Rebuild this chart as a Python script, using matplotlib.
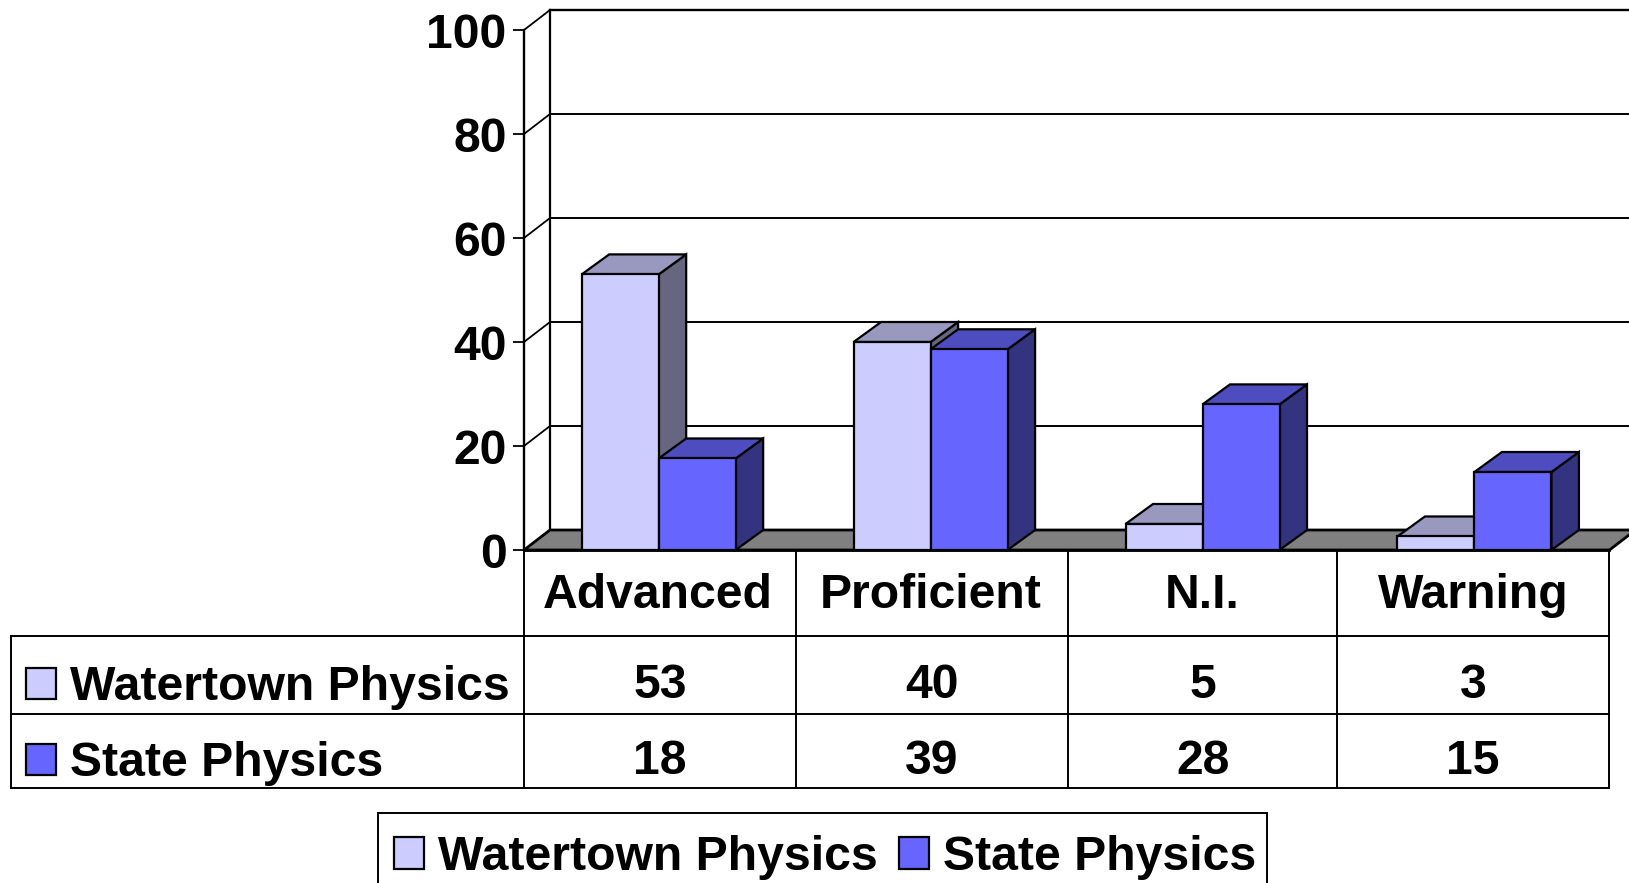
import matplotlib
matplotlib.use('Agg')
from matplotlib import pyplot as plt
from matplotlib.patches import Polygon, Rectangle

categories = ['Advanced', 'Proficient', 'N.I.', 'Warning']
series_names = ['Watertown Physics', 'State Physics']
# bar heights, the table shows them rounded
watertown = [53, 40, 5, 2.6]
state = [17.6, 38.6, 28, 15]
y_ticks = [0, 20, 40, 60, 80, 100]

W, H = 1629, 883
FONT = 'Liberation Sans'
SIZE = 34.7

# front, top, side colours for each series
colors_w = ('#CCCCFF', '#9999BF', '#666680')
colors_s = ('#6666FF', '#4D4DBF', '#333380')

# the chart front plane in pixels
left, right, y0, y100 = 524, 1609.5, 550, 30

fig = plt.figure(figsize=(W / 100, H / 100), dpi=100, facecolor='white')
ax = fig.add_axes([left / W, 1 - y0 / H, (right - left) / W, (y0 - y100) / H])
ax.set_xlim(0, len(categories))
ax.set_ylim(0, 100)
ax.patch.set_visible(False)
for s in ['top', 'right', 'bottom']:
    ax.spines[s].set_visible(False)
ax.spines['left'].set_linewidth(1.7)

ax.set_xticks([])
ax.set_yticks(y_ticks)
ax.set_yticklabels([str(t) for t in y_ticks], fontfamily=FONT, fontweight='bold', fontsize=SIZE)
ax.tick_params(axis='y', length=8, width=1.3, pad=4.5)

# depth of the fake 3d, in data units
px_per_cat = (right - left) / len(categories)
dx = 26 / px_per_cat
bar_dx = 27.5 / px_per_cat
dy = 20 / ((y0 - y100) / 100)
n = len(categories)

# floor
ax.add_patch(Polygon([(0, 0), (n, 0), (n + dx, dy), (dx, dy)], closed=True, facecolor='#808080',
                     edgecolor='black', linewidth=2.0, clip_on=False, zorder=2))

# back wall
ax.plot([dx, dx], [dy, 100 + dy], color='black', lw=1.6, clip_on=False, zorder=1)
for t in y_ticks:
    if t > 0:
        lw = 1.7 if t == 100 else 1.4
        ax.plot([dx, n + dx], [t + dy, t + dy], color='black', lw=lw, clip_on=False, zorder=1)
        ax.plot([0, dx], [t, t + dy], color='black', lw=1.3, clip_on=False, zorder=1)

bar_w = 77 / px_per_cat
z = 3
for i in range(n):
    center = 0.4963 + i * 1.002
    for j, (val, cols) in enumerate([(watertown[i], colors_w), (state[i], colors_s)]):
        x0 = center - bar_w + j * bar_w
        x1 = x0 + bar_w
        side = Polygon([(x1, 0), (x1 + bar_dx, dy), (x1 + bar_dx, val + dy), (x1, val)], closed=True,
                       facecolor=cols[2], edgecolor='black', linewidth=1.6, clip_on=False, zorder=z)
        top = Polygon([(x0, val), (x1, val), (x1 + bar_dx, val + dy), (x0 + bar_dx, val + dy)], closed=True,
                      facecolor=cols[1], edgecolor='black', linewidth=1.6, clip_on=False, zorder=z)
        ax.add_patch(side)
        ax.add_patch(top)
        ax.bar(x0, val, width=bar_w, align='edge', color=cols[0], edgecolor='black', linewidth=1.6,
               clip_on=False, zorder=z + 1)
        z += 2

# table and legend are laid out on a pixel overlay
ov = fig.add_axes([0, 0, 1, 1])
ov.set_xlim(0, W)
ov.set_ylim(H, 0)
ov.axis('off')
ov.patch.set_visible(False)

col_x = [524, 796, 1068, 1337, 1609.5]
row_y = [550, 636, 714, 788]
tab_left = 11.5
col_centers = [658, 931, 1202, 1473]
val_centers = [660, 932, 1203, 1473]

ov.plot([left, right], [row_y[0], row_y[0]], color='black', lw=2.0, zorder=20)
for x in col_x:
    ov.plot([x, x], [row_y[0], row_y[3]], color='black', lw=1.4)
ov.plot([tab_left, tab_left], [row_y[1], row_y[3]], color='black', lw=1.4)
for y in row_y[1:]:
    ov.plot([tab_left, col_x[-1]], [y, y], color='black', lw=1.4)

txt = dict(fontfamily=FONT, fontweight='bold', fontsize=SIZE, color='black', va='baseline')
for c, name in zip(col_centers, categories):
    ov.text(c, 608, name, ha='center', **txt)
rows = [(700, 667.5, watertown, colors_w[0], series_names[0]),
        (775.5, 744, state, colors_s[0], series_names[1])]
for base, key_y, vals, col, name in rows:
    ov.add_patch(Rectangle((26, key_y), 30, 31, facecolor=col, edgecolor='black', linewidth=1.6))
    ov.text(70, base, name, ha='left', **txt)
    for c, v in zip(val_centers, vals):
        ov.text(c, base - 2, str(round(v)), ha='center', **txt)

# legend, its lower edge runs off the picture
ov.add_patch(Rectangle((378, 813), 889.5, 100, facecolor='white', edgecolor='black', linewidth=1.4))
for key_x, text_x, col, name in [(394, 438, colors_w[0], series_names[0]), (899, 943, colors_s[0], series_names[1])]:
    ov.add_patch(Rectangle((key_x, 837), 30, 32, facecolor=col, edgecolor='black', linewidth=1.6))
    ov.text(text_x, 870, name, ha='left', **txt)

plt.savefig('out.png', dpi=100)
